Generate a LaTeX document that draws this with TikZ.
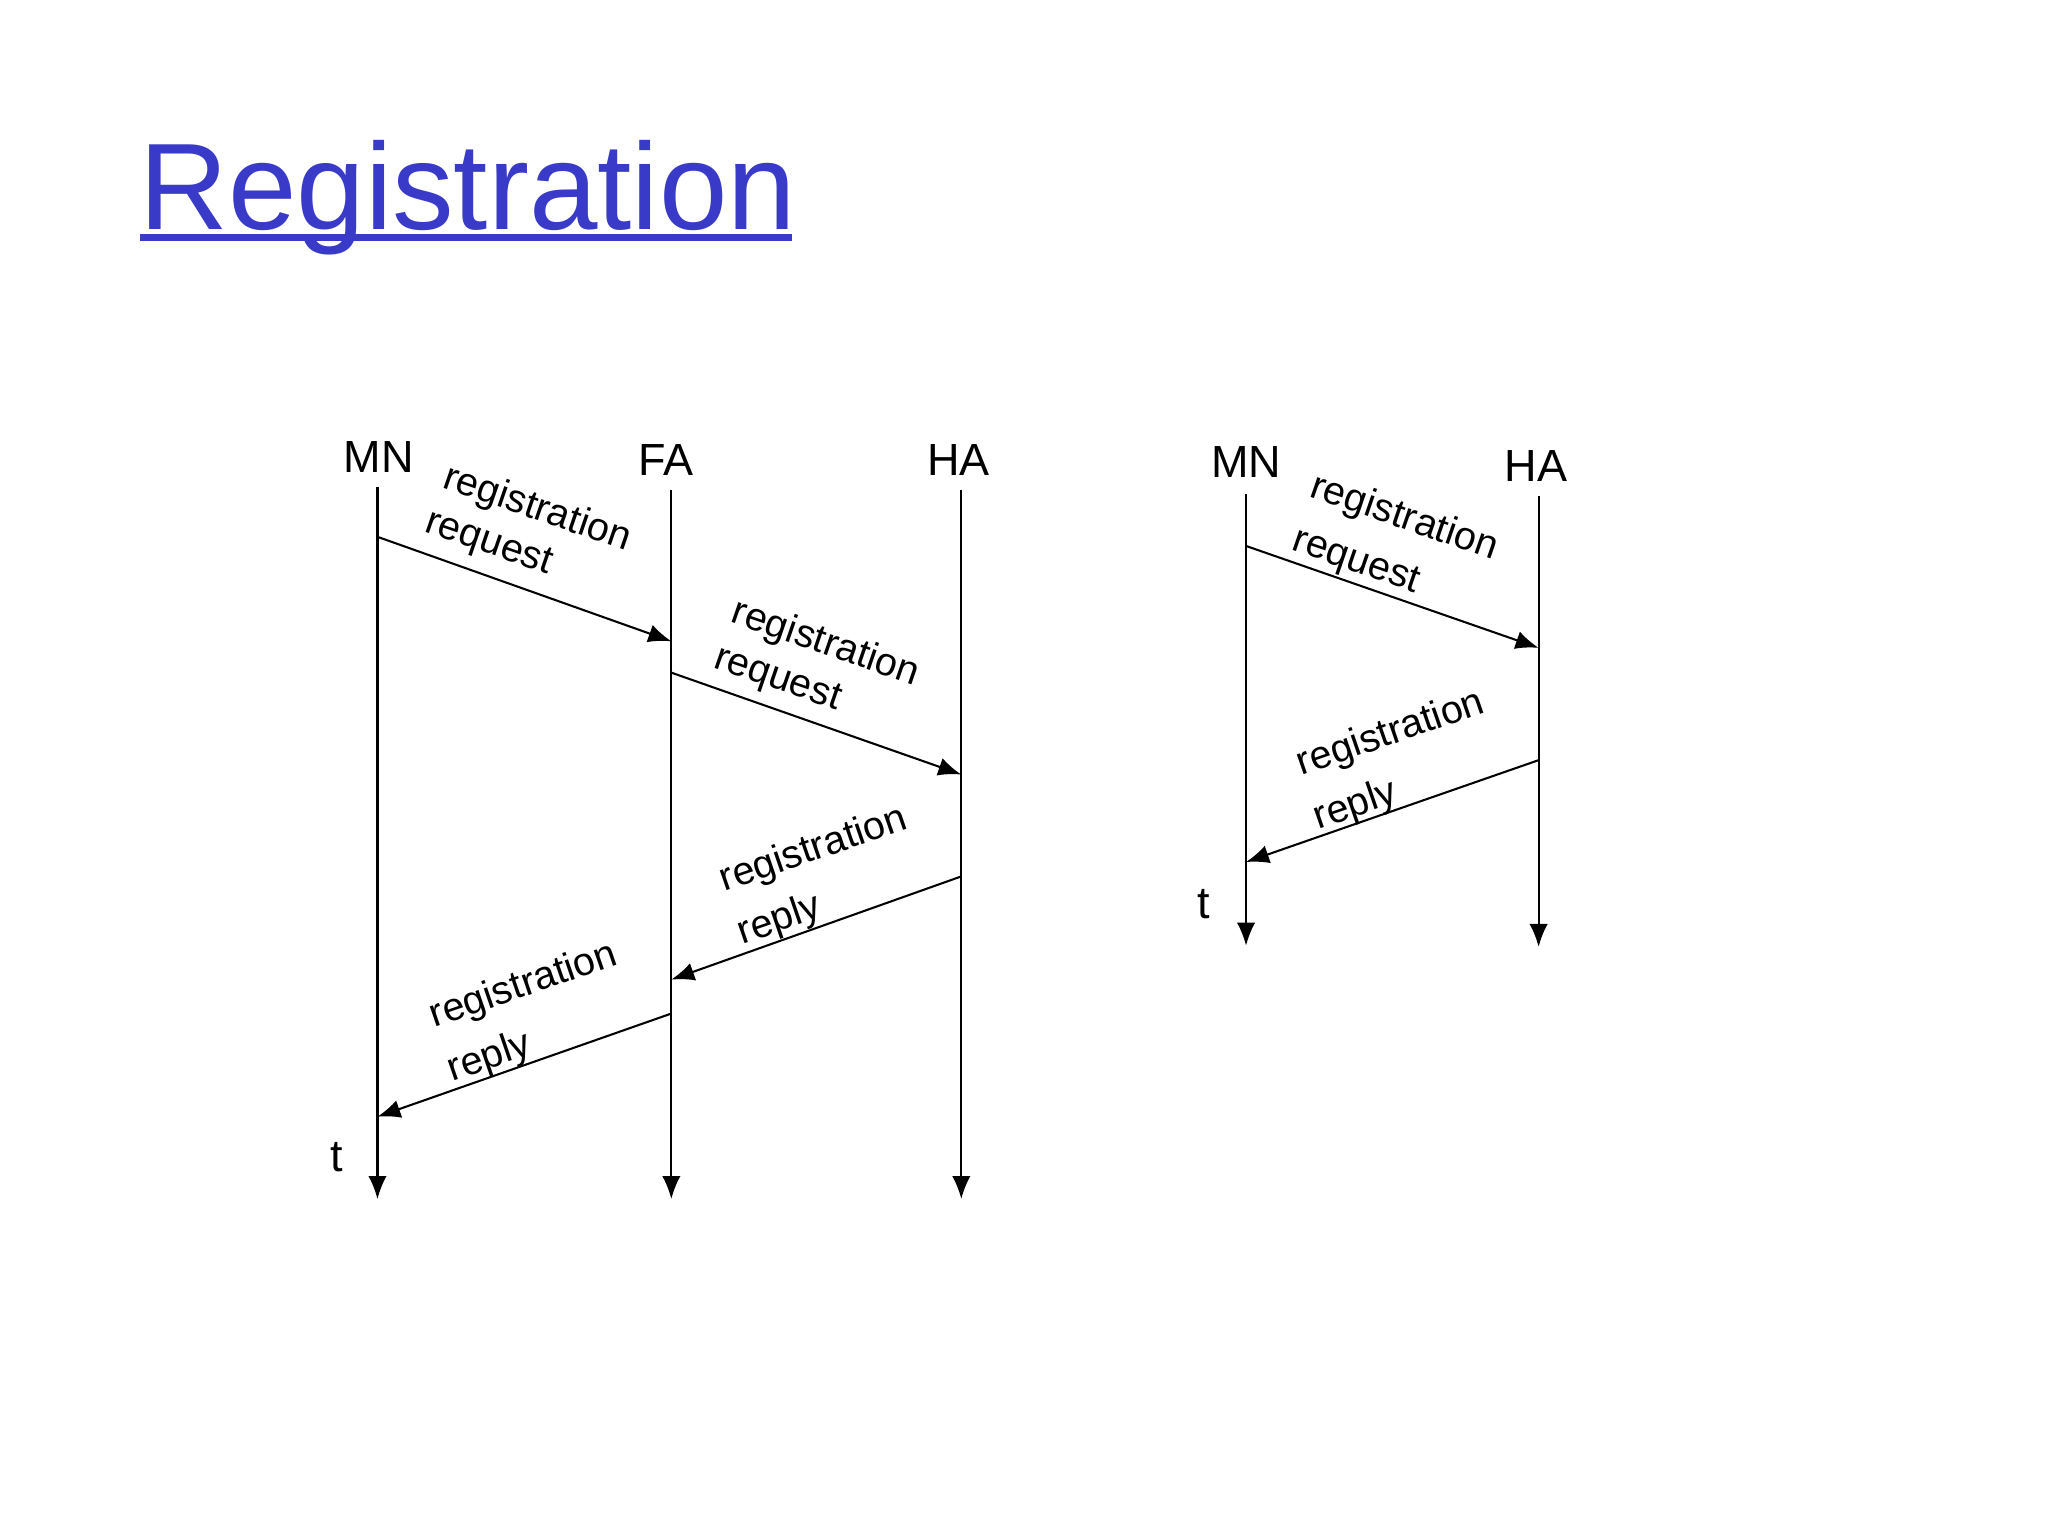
\documentclass[tikz,border=0pt]{standalone}
\usepackage{fontspec}
\setmainfont{Liberation Sans}
\usetikzlibrary{arrows.meta}
\definecolor{titleblue}{RGB}{58,58,200}
\begin{document}
\begin{tikzpicture}[x=0.01cm,y=-0.01cm,
  life/.style={line width=0.45pt,-{Latex[length=5pt,width=4pt]}},
  msg/.style={line width=0.45pt,-{Latex[length=5pt,width=4pt]}},
  lbl/.style={font=\fontsize{8.6}{10}\selectfont,inner sep=0pt},
  ent/.style={font=\fontsize{9.8}{12}\selectfont,inner sep=0pt}]
\useasboundingbox (0,0) rectangle (1568,1176);
\node[anchor=base west,inner sep=0pt,text=titleblue,font=\fontsize{26.8}{30}\selectfont] (title) at (106,176) {Registration};
\draw[titleblue,line width=1.6pt] (107,182) -- (606,182);
% left diagram
\node[ent] (mn) at (290,350) {MN};
\node[ent] (fa) at (510,352) {FA};
\node[ent] (ha) at (734,352) {HA};
\coordinate (mnT) at (289,373); \coordinate (mnB) at (289,918);
\coordinate (faT) at (514,375); \coordinate (faB) at (514,918);
\coordinate (haT) at (736,375); \coordinate (haB) at (736,918);
\draw[life] (mnT) -- (mnB);
\draw[life] (faT) -- (faB);
\draw[life] (haT) -- (haB);
\coordinate (a1) at (289,411); \coordinate (b1) at (514,491);
\coordinate (a2) at (514,515); \coordinate (b2) at (736,593);
\coordinate (a3) at (736,671); \coordinate (b3) at (514,750);
\coordinate (a4) at (514,776); \coordinate (b4) at (289,855);
\draw[msg] (a1) -- (b1);
\draw[msg] (a2) -- (b2);
\draw[msg] (a3) -- (b3);
\draw[msg] (a4) -- (b4);
\node[lbl,rotate=-19] (l1a) at (411,390) {registration};
\node[lbl,rotate=-19] (l1b) at (374,417) {request};
\node[lbl,rotate=-19] (l2a) at (632,493) {registration};
\node[lbl,rotate=-19] (l2b) at (595,521) {request};
\node[lbl,rotate=19] (l3a) at (623,651) {registration};
\node[lbl,rotate=19] (l3b) at (597,705) {reply};
\node[lbl,rotate=19] (l4a) at (401,755) {registration};
\node[lbl,rotate=19] (l4b) at (375,810) {reply};
\node[ent] (t1) at (258,886) {t};
% right diagram
\node[ent] (mn2) at (954,354) {MN};
\node[ent] (ha2) at (1176,357) {HA};
\coordinate (mn2T) at (954,378); \coordinate (mn2B) at (954,724);
\coordinate (ha2T) at (1178,380); \coordinate (ha2B) at (1178,725);
\draw[life] (mn2T) -- (mn2B);
\draw[life] (ha2T) -- (ha2B);
\coordinate (c1) at (954,418); \coordinate (d1) at (1178,496);
\coordinate (c2) at (1178,582); \coordinate (d2) at (954,660);
\draw[msg] (c1) -- (d1);
\draw[msg] (c2) -- (d2);
\node[lbl,rotate=-19] (r1a) at (1075,397) {registration};
\node[lbl,rotate=-19] (r1b) at (1038,431) {request};
\node[lbl,rotate=19] (r2a) at (1065,562) {registration};
\node[lbl,rotate=19] (r2b) at (1038,617) {reply};
\node[ent] (t2) at (922,692) {t};
\end{tikzpicture}
\end{document}
